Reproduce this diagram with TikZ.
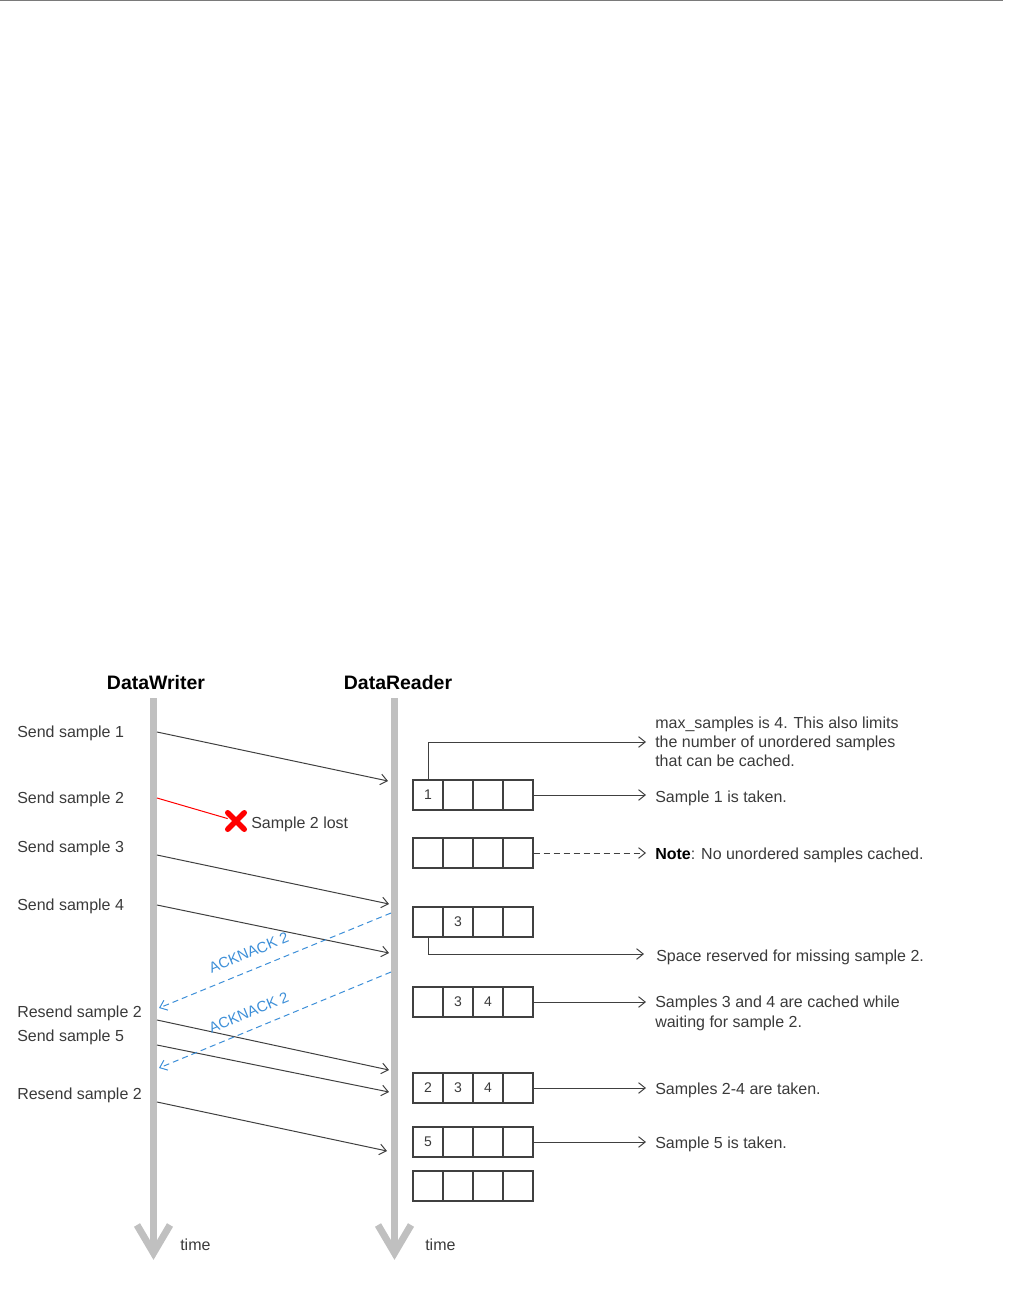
\documentclass[tikz,border=0pt]{standalone}
\usepackage{fontspec}
\setmainfont{Liberation Sans}
\usetikzlibrary{arrows.meta,shapes.misc}
\definecolor{txt}{HTML}{3A3A3A}
\definecolor{ln}{HTML}{404040}
\definecolor{life}{HTML}{C0C0C0}
\definecolor{ackblue}{HTML}{3D8FD8}
\definecolor{topline}{HTML}{7A7A7A}
\definecolor{lostred}{HTML}{FF0000}
\begin{document}
\begin{tikzpicture}[x=0.75pt,y=-0.75pt,
  lbl/.style={text=txt, font=\fontsize{12}{14.4}\selectfont, inner sep=0pt},
  hdr/.style={text=black, font=\fontsize{14.6}{17}\selectfont\bfseries, inner sep=0pt},
  lifeline/.style={draw=life, line width=5.25pt},
  lifehead/.style={draw=life, line width=5.25pt, line join=miter},
  msg/.style={draw=ln, line width=0.75pt, -{Straight Barb[length=5pt,width=8pt]}},
  ack/.style={draw=ackblue, line width=0.75pt, dash pattern=on 4.5pt off 3pt, -{Straight Barb[length=5pt,width=8pt]}},
  acklbl/.style={text=ackblue, font=\fontsize{11.2}{13}\selectfont, inner sep=0pt, sloped, above=8.5pt},
  cell/.style={draw=ln, line width=0.9pt, minimum size=22.5pt, inner sep=0pt, font=\fontsize{10.5}{12}\selectfont, text=txt},
  note/.style={draw=ln, line width=0.75pt, shorten >=6.75pt, -{Straight Barb[length=5pt,width=8pt]}},
]
\useasboundingbox (0,0) rectangle (1010,1298);
\draw[topline, line width=1pt] (0,0.7) -- (1003,0.7);

% headers
\node[hdr, anchor=base] (hw) at (156,689) {DataWriter};
\node[hdr, anchor=base] (hr) at (398,689) {DataReader};

% lifelines
\coordinate (Wtop) at (153.5,698);
\coordinate (Wbot) at (153.5,1253);
\coordinate (Rtop) at (394.5,698);
\coordinate (Rbot) at (394.5,1253);
\draw[lifeline] (Wtop) -- (Wbot);
\draw[lifehead] (Wbot) ++(-16.5,-28) -- (Wbot) -- ++(16.5,-28);
\draw[lifeline] (Rtop) -- (Rbot);
\draw[lifehead] (Rbot) ++(-16.5,-28) -- (Rbot) -- ++(16.5,-28);
\node[lbl, anchor=base west] (timeW) at (180,1250) {time};
\node[lbl, anchor=base west] (timeR) at (425,1250) {time};

% writer labels
\node[lbl, anchor=base west] (ls1) at (17,737) {Send sample 1};
\node[lbl, anchor=base west] (ls2) at (17,803) {Send sample 2};
\node[lbl, anchor=base west] (ls3) at (17,852) {Send sample 3};
\node[lbl, anchor=base west] (ls4) at (17,910) {Send sample 4};
\node[lbl, anchor=base west] (ls5) at (17,1017) {Resend sample 2};
\node[lbl, anchor=base west] (ls6) at (17,1041) {Send sample 5};
\node[lbl, anchor=base west] (ls7) at (17,1099) {Resend sample 2};

% message end points
\coordinate (s1) at (157,732);  \coordinate (e1) at (388,781);
\coordinate (s2) at (157,798);
\coordinate (s3) at (157,855);  \coordinate (e3) at (389,904);
\coordinate (s4) at (157,905);  \coordinate (e4) at (389,953);
\coordinate (s5) at (157,1020); \coordinate (e5) at (389,1070);
\coordinate (s6) at (157,1045); \coordinate (e6) at (389,1092);
\coordinate (s7) at (157,1102); \coordinate (e7) at (387,1151);
\coordinate (a1s) at (391,913); \coordinate (a1e) at (159,1008);
\coordinate (a2s) at (391,972); \coordinate (a2e) at (159,1068);

\draw[msg] (s1) -- (e1);
\node[draw=lostred, cross out, line width=4pt, line cap=round, minimum size=8.5pt, inner sep=0pt] (lost) at (236,821) {};
\draw[lostred, line width=0.75pt] (s2) -- (lost);
\node[lbl, anchor=base west] (lostlbl) at (251,828) {Sample 2 lost};
\draw[msg] (s3) -- (e3);
\draw[msg] (s4) -- (e4);
\draw[msg] (s5) -- (e5);
\draw[msg] (s6) -- (e6);
\draw[msg] (s7) -- (e7);
\draw[ack] (a1s) -- node[acklbl, pos=0.585] {ACKNACK 2} (a1e);
\draw[ack] (a2s) -- node[acklbl, pos=0.585] {ACKNACK 2} (a2e);

% reader cache rows
\foreach \r/\y/\a/\b/\c/\d in {1/795/1/{}/{}/{}, 2/853/{}/{}/{}/{}, 3/922/{}/3/{}/{}, 4/1002/{}/3/4/{}, 5/1088/2/3/4/{}, 6/1142/5/{}/{}/{}, 7/1186/{}/{}/{}/{}}{
  \node[cell] (r\r c1) at (428,\y) {\a};
  \node[cell] (r\r c2) at (458,\y) {\b};
  \node[cell] (r\r c3) at (488,\y) {\c};
  \node[cell] (r\r c4) at (518,\y) {\d};
}

% notes
\node[lbl, anchor=west, align=left] (tmax) at (655,742) {max\_samples is 4. This also limits\\the number of unordered samples\\that can be cached.};
\draw[note] (r1c1.north) |- (tmax.west);
\node[lbl, anchor=base west] (t1) at (655,802) {Sample 1 is taken.};
\draw[note] (r1c4.east) -- (t1.west |- r1c4.east);
\node[lbl, anchor=base west] (t2) at (655,859) {{\color{black}\bfseries Note}: No unordered samples cached.};
\draw[note, dash pattern=on 4.5pt off 3pt] (r2c4.east) -- (t2.west |- r2c4.east);
\node[lbl, anchor=base west] (t3) at (656,961) {Space reserved for missing sample 2.};
\coordinate (t3a) at (t3.west |- 0,954);
\draw[note, shorten >=9pt] (r3c1.south) |- (t3a);
\node[lbl, anchor=west, align=left] (t4) at (655,1013.3) {Samples 3 and 4 are cached while\\waiting for sample 2.};
\draw[note] (r4c4.east) -- (t4.west |- r4c4.east);
\node[lbl, anchor=base west] (t5) at (655,1094) {Samples 2-4 are taken.};
\draw[note] (r5c4.east) -- (t5.west |- r5c4.east);
\node[lbl, anchor=base west] (t6) at (655,1148) {Sample 5 is taken.};
\draw[note] (r6c4.east) -- (t6.west |- r6c4.east);
\end{tikzpicture}
\end{document}
